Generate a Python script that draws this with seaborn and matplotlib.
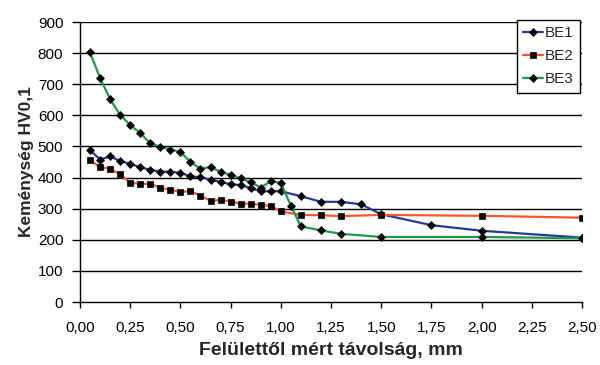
import matplotlib
matplotlib.use("Agg")
import matplotlib.pyplot as plt
import seaborn as sns
import pandas as pd
from matplotlib.ticker import FixedLocator, FuncFormatter

# ---- data ----
be1_x = [0.05, 0.10, 0.15, 0.20, 0.25, 0.30, 0.35, 0.40, 0.45, 0.50, 0.55, 0.60, 0.65, 0.70,
         0.75, 0.80, 0.85, 0.90, 0.95, 1.00, 1.10, 1.20, 1.30, 1.40, 1.50, 1.75, 2.00, 2.50]
be1_y = [488, 458, 468, 453, 444, 433, 425, 419, 419, 415, 404, 401, 393, 386,
         378, 376, 366, 356, 356, 356, 340, 322, 322, 314, 282, 247, 229, 207]

be2_x = [0.05, 0.10, 0.15, 0.20, 0.25, 0.30, 0.35, 0.40, 0.45, 0.50, 0.55, 0.60, 0.65, 0.70,
         0.75, 0.80, 0.85, 0.90, 0.95, 1.00, 1.10, 1.20, 1.30, 1.50, 2.00, 2.50]
be2_y = [457, 433, 428, 410, 383, 380, 380, 367, 360, 354, 356, 342, 325, 328,
         323, 316, 316, 312, 309, 291, 280, 279, 276, 280, 277, 271]

be3_x = [0.05, 0.10, 0.15, 0.20, 0.25, 0.30, 0.35, 0.40, 0.45, 0.50, 0.55, 0.60, 0.65, 0.70,
         0.75, 0.80, 0.85, 0.90, 0.95, 1.00, 1.05, 1.10, 1.20, 1.30, 1.50, 2.00, 2.50]
be3_y = [802, 720, 652, 601, 569, 543, 510, 499, 490, 483, 450, 428, 434, 418,
         409, 397, 385, 368, 388, 383, 310, 243, 230, 219, 209, 209, 205]

series_names = ["BE1", "BE2", "BE3"]
x_ticks = [0.0, 0.25, 0.5, 0.75, 1.0, 1.25, 1.5, 1.75, 2.0, 2.25, 2.5]
y_ticks = [0, 100, 200, 300, 400, 500, 600, 700, 800, 900]
x_label = "Felülettől mért távolság, mm"
y_label = "Keménység HV0,1"

# ---- style ----
sns.set_style("white")
plt.rcParams["font.family"] = ["Liberation Sans", "DejaVu Sans"]

colors = {"BE1": "#26399A", "BE2": "#FF5528", "BE3": "#1E9A4B"}
markers = {"BE1": "D", "BE2": "s", "BE3": "D"}
msizes = {"BE1": 3.8, "BE2": 4.0, "BE3": 3.8}

fig = plt.figure(figsize=(6, 3.65), dpi=100)
ax = fig.add_axes([80 / 600, 1 - 302 / 365, 502 / 600, 280 / 365])

data = {"BE1": (be1_x, be1_y), "BE2": (be2_x, be2_y), "BE3": (be3_x, be3_y)}
for name in series_names:
    xs, ys = data[name]
    df = pd.DataFrame({"x": xs, "y": ys})
    sns.lineplot(data=df, x="x", y="y", ax=ax, color=colors[name], linewidth=1.6,
                 marker=markers[name], markersize=msizes[name],
                 markerfacecolor="black", markeredgecolor="black", markeredgewidth=0.5,
                 label=name, zorder=3)

ax.set_xlim(0, 2.5)
ax.set_ylim(0, 900)
ax.xaxis.set_major_locator(FixedLocator(x_ticks))
ax.yaxis.set_major_locator(FixedLocator(y_ticks))
ax.xaxis.set_major_formatter(FuncFormatter(lambda v, p: f"{v:.2f}".replace(".", ",")))
ax.yaxis.set_major_formatter(FuncFormatter(lambda v, p: f"{int(v)}"))

for yv in y_ticks[1:]:
    ax.axhline(yv, color="black", linewidth=1.0, zorder=1)

for s in ["top", "right"]:
    ax.spines[s].set_visible(False)
for s in ["left", "bottom"]:
    ax.spines[s].set_color("black")
    ax.spines[s].set_linewidth(1.0)

ax.tick_params(axis="both", which="major", direction="out", width=1.0,
               color="black", labelsize=11, labelcolor="black",
               bottom=True, left=True)
ax.tick_params(axis="y", length=6, pad=6)
ax.tick_params(axis="x", length=4, pad=10)

ax.set_xlabel(x_label, fontsize=14, fontweight="bold", labelpad=5)
ax.set_ylabel(y_label, fontsize=12.5, fontweight="bold", labelpad=3)

leg = ax.legend(loc="upper left", bbox_to_anchor=(517 / 600, 1 - 20 / 365),
                bbox_transform=fig.transFigure, frameon=True, fancybox=False,
                fontsize=11, handlelength=1.25, handletextpad=0.15,
                labelspacing=0.58, borderpad=0.42, borderaxespad=0)
leg.get_frame().set_edgecolor("black")
leg.get_frame().set_linewidth(1.0)
leg.get_frame().set_alpha(1)
leg.set_zorder(10)

fig.savefig("out.png", dpi=100)
